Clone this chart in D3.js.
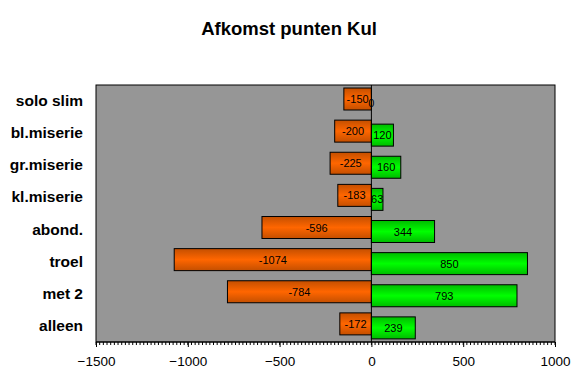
<!DOCTYPE html>
<html>
<head>
<meta charset="utf-8">
<script src="https://cdn.jsdelivr.net/npm/d3@7"></script>
<style>
  body { margin: 0; background: #fff; }
  text { font-family: Arial, "Liberation Sans", sans-serif; }
</style>
</head>
<body>
<div id="chart"></div>
<script>
// DATA
const categories = ["solo slim", "bl.miserie", "gr.miserie", "kl.miserie", "abond.", "troel", "met 2", "alleen"];
const verlies = [-150, -200, -225, -183, -596, -1074, -784, -172];
const winst = [0, 120, 160, 63, 344, 850, 793, 239];
const xTicks = [-1500, -1000, -500, 0, 500, 1000];

const width = 578, height = 377;
const margin = {top: 85, right: 23, bottom: 35, left: 96};

const svg = d3.select("#chart").append("svg")
    .attr("width", width)
    .attr("height", height);

// gradients
const defs = svg.append("defs");
function grad(id, edge, mid) {
    const g = defs.append("linearGradient").attr("id", id)
        .attr("x1", 0).attr("y1", 0).attr("x2", 0).attr("y2", 1);
    g.append("stop").attr("offset", "0%").attr("stop-color", edge);
    g.append("stop").attr("offset", "50%").attr("stop-color", mid);
    g.append("stop").attr("offset", "100%").attr("stop-color", edge);
}
grad("oranje", "#c44f00", "#ff6600");
grad("groen", "#00bb00", "#00ff00");

// SCALES
const xScale = d3.scaleLinear()
    .domain([-1500, 1000])
    .range([margin.left, width - margin.right]);

const yScale = d3.scaleBand()
    .domain(categories)
    .range([margin.top, height - margin.bottom]);

const barH = 22;

// plot area
svg.append("rect")
    .attr("x", margin.left)
    .attr("y", margin.top)
    .attr("width", xScale(1000) - xScale(-1500))
    .attr("height", yScale.range()[1] - margin.top)
    .attr("fill", "#969696")
    .attr("stroke", "#000")
    .attr("stroke-width", 1);

// orange bars
svg.selectAll("rect.v")
    .data(verlies)
    .join("rect")
    .attr("class", "v")
    .attr("x", d => xScale(d))
    .attr("y", (d, i) => yScale(categories[i]) + 3)
    .attr("width", d => xScale(0) - xScale(d))
    .attr("height", barH)
    .attr("fill", "url(#oranje)")
    .attr("stroke", "#000")
    .attr("stroke-width", 1);

// green bars
svg.selectAll("rect.w")
    .data(winst)
    .join("rect")
    .attr("class", "w")
    .attr("x", xScale(0))
    .attr("y", (d, i) => yScale(categories[i]) + 7)
    .attr("width", d => xScale(d) - xScale(0))
    .attr("height", barH)
    .attr("fill", "url(#groen)")
    .attr("stroke", d => d === 0 ? "none" : "#000")
    .attr("stroke-width", 1);

// zero line
svg.append("line")
    .attr("x1", xScale(0)).attr("x2", xScale(0))
    .attr("y1", margin.top).attr("y2", yScale.range()[1])
    .attr("stroke", "#000");

// data labels
svg.selectAll("text.lv")
    .data(verlies)
    .join("text")
    .attr("class", "lv")
    .attr("x", d => (xScale(d) + xScale(0)) / 2)
    .attr("y", (d, i) => yScale(categories[i]) + 3 + barH / 2 + 4)
    .attr("text-anchor", "middle")
    .style("font-size", "11px")
    .text(d => d);

svg.selectAll("text.lw")
    .data(winst)
    .join("text")
    .attr("class", "lw")
    .attr("x", d => (xScale(d) + xScale(0)) / 2)
    .attr("y", (d, i) => yScale(categories[i]) + 7 + barH / 2 + 4)
    .attr("text-anchor", "middle")
    .style("font-size", "11px")
    .text(d => d);

// X AXIS
const xAxis = d3.axisBottom(xScale)
    .tickValues(xTicks)
    .tickSize(5)
    .tickPadding(9)
    .tickFormat(d3.format("d"));

const xAxisGroup = svg.append("g")
    .attr("transform", `translate(0, ${yScale.range()[1]})`);

// minor ticks every 20
xAxisGroup.selectAll("line.minor")
    .data(d3.range(-1500, 1001, 20))
    .join("line")
    .attr("class", "minor")
    .attr("x1", d => xScale(d)).attr("x2", d => xScale(d))
    .attr("y1", 0).attr("y2", 3)
    .attr("stroke", "#000");

xAxisGroup.call(xAxis);
xAxisGroup.select(".domain").attr("d", `M${xScale(-1500)},0H${xScale(1000)}`);
xAxisGroup.selectAll(".tick line").attr("stroke", "#000");
xAxisGroup.selectAll(".tick text")
    .style("font-size", "13.5px")
    .style("font-family", "Arial, 'Liberation Sans', sans-serif")
    .attr("fill", "#000");

// category labels
svg.selectAll("text.cat")
    .data(categories)
    .join("text")
    .attr("class", "cat")
    .attr("x", 83)
    .attr("y", d => yScale(d) + yScale.bandwidth() / 2 + 5)
    .attr("text-anchor", "end")
    .style("font-size", "15.5px")
    .style("font-weight", "bold")
    .text(d => d);

// title
svg.append("text")
    .attr("x", 289)
    .attr("y", 35)
    .attr("text-anchor", "middle")
    .style("font-size", "18.5px")
    .style("font-weight", "bold")
    .text("Afkomst punten Kul");
</script>
</body>
</html>
